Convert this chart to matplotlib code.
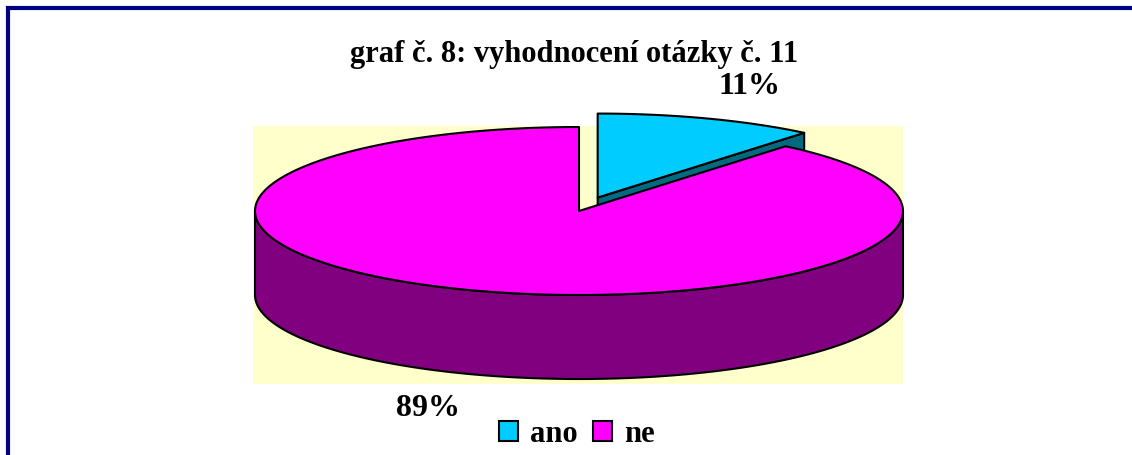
import numpy as np
import matplotlib.pyplot as plt
from matplotlib.patches import Patch, Rectangle

# data
labels = ["ano", "ne"]
values = [11, 89]
pct_labels = ["11%", "89%"]
top_colors = ["#00CCFF", "#FF00FF"]
side_colors = ["#006B80", "#800080"]
explode = [0.17, 0.0]
title = "graf č. 8: vyhodnocení otázky č. 11"

plt.rcParams["font.family"] = ["Liberation Serif", "DejaVu Serif"]
plt.rcParams["font.weight"] = "bold"

W, H = 1132, 456
fig = plt.figure(figsize=(W / 100, H / 100), dpi=100)
ax = fig.add_axes([0, 0, 1, 1])
ax.set_xlim(0, W)
ax.set_ylim(H, 0)
ax.axis("off")

# plot area background and outer border
ax.add_patch(Rectangle((253, 127), 650, 258, facecolor="#FFFFCC", edgecolor="none"))
ax.plot([7.5, 7.5, W], [H, 8.5, 8.5], color="#000080", lw=3, solid_joinstyle="miter")

# 3d pie geometry
cx, cy, a, b, depth = 579, 212, 324, 84, 84
start = 90.0


def pt(t, dx, dy, dz=0):
    t = np.radians(t)
    return cx + dx + a * np.cos(t), cy + dy - b * np.sin(t) + dz


def arc(t1, t2, dx, dy, dz=0):
    ts = np.linspace(t1, t2, 200)
    x, y = pt(ts, dx, dy, dz)
    return list(x), list(y)


fr = np.array(values) / sum(values)
cum = np.concatenate([[0], np.cumsum(fr)])
slices = []
for i in range(len(values)):
    t2 = start - cum[i] * 360
    t1 = start - cum[i + 1] * 360
    m = np.radians((t1 + t2) / 2)
    dx = explode[i] * a * np.cos(m)
    dy = -explode[i] * b * np.sin(m)
    slices.append((i, t1, t2, m, dx, dy))

# back slices first
slices.sort(key=lambda s: -np.sin(s[3]))
ec = dict(edgecolor="black", lw=1.5, joinstyle="round")
for i, t1, t2, m, dx, dy in slices:
    # radial faces facing the viewer
    for t, vis in ((t1, np.cos(np.radians(t1)) > 1e-6), (t2, np.cos(np.radians(t2)) < -1e-6)):
        if vis:
            x0, y0 = cx + dx, cy + dy
            x1, y1 = pt(t, dx, dy)
            ax.fill([x0, x1, x1, x0], [y0, y1, y1 + depth, y0 + depth],
                    facecolor=side_colors[i], **ec)
    # outer wall, front part
    for k in range(-2, 2):
        lo, hi = max(t1, 180 + 360 * k), min(t2, 360 + 360 * k)
        if hi > lo:
            xt, yt = arc(lo, hi, dx, dy)
            xb, yb = arc(hi, lo, dx, dy, depth)
            ax.fill(xt + xb, yt + yb, facecolor=side_colors[i], **ec)
    # top
    xt, yt = arc(t1, t2, dx, dy)
    ax.fill([cx + dx] + xt, [cy + dy] + yt, facecolor=top_colors[i], **ec)
    # percentage label
    lx = cx + dx + 1.38 * a * np.cos(m)
    ly = cy + dy - 1.42 * b * np.sin(m) + (depth if np.sin(m) < 0 else 0)
    ax.text(lx, ly, pct_labels[i], ha="center", va="center", fontsize=23, fontweight="bold")

fig.text(574 / W, 1 - 62 / H, title, ha="center", va="baseline", fontsize=22, fontweight="bold")

handles = [Patch(facecolor=c, edgecolor="black", lw=1.5) for c in top_colors]
fig.legend(handles, labels, loc="center", bbox_to_anchor=(577 / W, 1 - 435 / H), ncol=2,
           frameon=False, handlelength=0.62, handleheight=0.62,
           handletextpad=0.4, columnspacing=0.5, prop={"weight": "bold", "size": 22})

fig.savefig("out.png", dpi=100)
